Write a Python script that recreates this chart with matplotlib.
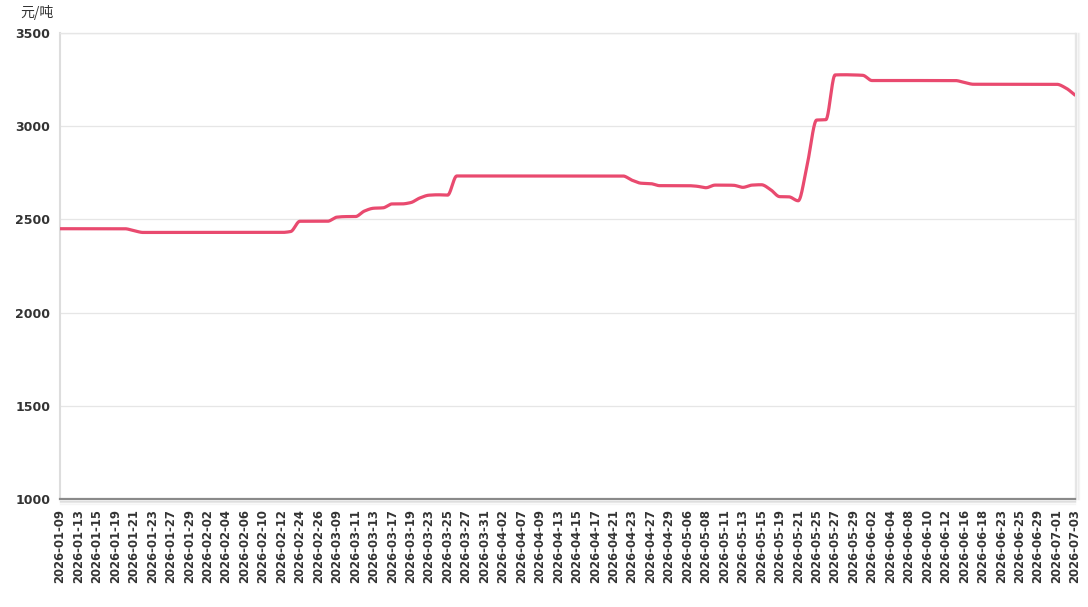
import numpy as np
import matplotlib
matplotlib.use("Agg")
import matplotlib.pyplot as plt

plt.rcParams['font.family'] = ['Noto Sans CJK SC', 'DejaVu Sans']

dates = [
    "2026-01-09", "2026-01-12", "2026-01-13", "2026-01-14", "2026-01-15", "2026-01-16",
    "2026-01-19", "2026-01-20", "2026-01-21", "2026-01-22", "2026-01-23", "2026-01-26",
    "2026-01-27", "2026-01-28", "2026-01-29", "2026-01-30", "2026-02-02", "2026-02-03",
    "2026-02-04", "2026-02-05", "2026-02-06", "2026-02-09", "2026-02-10", "2026-02-11",
    "2026-02-12", "2026-02-13", "2026-02-24", "2026-02-25", "2026-02-26", "2026-03-02",
    "2026-03-09", "2026-03-10", "2026-03-11", "2026-03-12", "2026-03-13", "2026-03-16",
    "2026-03-17", "2026-03-18", "2026-03-19", "2026-03-20", "2026-03-23", "2026-03-24",
    "2026-03-25", "2026-03-26", "2026-03-27", "2026-03-30", "2026-03-31", "2026-04-01",
    "2026-04-02", "2026-04-03", "2026-04-07", "2026-04-08", "2026-04-09", "2026-04-10",
    "2026-04-13", "2026-04-14", "2026-04-15", "2026-04-16", "2026-04-17", "2026-04-20",
    "2026-04-21", "2026-04-22", "2026-04-23", "2026-04-24", "2026-04-27", "2026-04-28",
    "2026-04-29", "2026-04-30", "2026-05-06", "2026-05-07", "2026-05-08", "2026-05-09",
    "2026-05-11", "2026-05-12", "2026-05-13", "2026-05-14", "2026-05-15", "2026-05-18",
    "2026-05-19", "2026-05-20", "2026-05-21", "2026-05-22", "2026-05-25", "2026-05-26",
    "2026-05-27", "2026-05-28", "2026-05-29", "2026-06-01", "2026-06-02", "2026-06-03",
    "2026-06-04", "2026-06-05", "2026-06-08", "2026-06-09", "2026-06-10", "2026-06-11",
    "2026-06-12", "2026-06-15", "2026-06-16", "2026-06-17", "2026-06-18", "2026-06-22",
    "2026-06-23", "2026-06-24", "2026-06-25", "2026-06-26", "2026-06-29", "2026-06-30",
    "2026-07-01", "2026-07-02", "2026-07-03",
]

prices = [
    2450, 2450, 2450, 2450, 2450, 2450, 2450, 2450, 2440, 2430,   # 0-9
    2430, 2430, 2430, 2430, 2430, 2430, 2430, 2430, 2430, 2430,   # 10-19
    2430, 2430, 2430, 2430, 2430, 2435, 2490, 2490, 2490, 2490,   # 20-29
    2512, 2515, 2515, 2545, 2560, 2562, 2583, 2583, 2590, 2615,   # 30-39
    2630, 2632, 2630, 2733, 2733, 2733, 2733, 2733, 2733, 2733,   # 40-49
    2733, 2733, 2733, 2733, 2733, 2733, 2733, 2733, 2733, 2733,   # 50-59
    2733, 2733, 2710, 2694, 2692, 2681, 2681, 2681, 2681, 2678,   # 60-69
    2670, 2684, 2684, 2683, 2672, 2684, 2686, 2660, 2622, 2621,   # 70-79
    2600, 2800, 3033, 3035, 3275, 3276, 3275, 3273, 3245, 3245,   # 80-89
    3245, 3245, 3245, 3245, 3245, 3245, 3245, 3245, 3235, 3225,   # 90-99
    3225, 3225, 3225, 3225, 3225, 3225, 3225, 3225, 3225, 3205,   # 100-109
    3167,                                                         # 110
]

unit_label = "元/吨"
y_ticks = [1000, 1500, 2000, 2500, 3000, 3500]


def pchip(x, y, xs):
    x = np.asarray(x, float)
    y = np.asarray(y, float)
    h = np.diff(x)
    d = np.diff(y) / h
    n = len(x)
    m = np.zeros(n)
    for k in range(1, n - 1):
        if d[k - 1] * d[k] <= 0:
            m[k] = 0.0
        else:
            w1 = 2 * h[k] + h[k - 1]
            w2 = h[k] + 2 * h[k - 1]
            m[k] = (w1 + w2) / (w1 / d[k - 1] + w2 / d[k])
    m[0] = d[0]
    m[-1] = d[-1]
    idx = np.clip(np.searchsorted(x, xs) - 1, 0, n - 2)
    t = (xs - x[idx]) / h[idx]
    h00 = 2 * t**3 - 3 * t**2 + 1
    h10 = t**3 - 2 * t**2 + t
    h01 = -2 * t**3 + 3 * t**2
    h11 = t**3 - t**2
    return h00 * y[idx] + h10 * h[idx] * m[idx] + h01 * y[idx + 1] + h11 * h[idx] * m[idx + 1]


fig = plt.figure(figsize=(10.88, 6.07), dpi=100)
ax = fig.add_axes([60 / 1088, 1 - 499 / 607, (1075 - 60) / 1088, (499 - 33) / 607])

xi = np.arange(len(dates))
xs = np.linspace(0, len(dates) - 1, 3000)
ax.plot(xs, pchip(xi, prices, xs), color="#e94a6f", lw=2.3, solid_capstyle="round", zorder=3)

ax.set_xlim(0, len(dates) - 1)
ax.set_ylim(1000, 3500)
ax.set_yticks(y_ticks)
ax.set_yticklabels([str(v) for v in y_ticks], fontsize=9, fontweight="bold", color="#333333",
                   family=["DejaVu Sans"])
ax.set_xticks(xi[::2])
ax.set_xticklabels(dates[::2], rotation=90, fontsize=8.4, fontweight="bold", color="#333333",
                   family=["DejaVu Sans"])
ax.tick_params(axis="both", length=0)
ax.tick_params(axis="x", pad=7)
ax.tick_params(axis="y", pad=7)

ax.grid(axis="y", color="#e6e6e6", lw=0.9)
ax.set_axisbelow(True)
for s in ["top", "right"]:
    ax.spines[s].set_color("#e6e6e6")
    ax.spines[s].set_linewidth(1.0)
ax.spines["left"].set_color("#dddddd")
ax.spines["left"].set_linewidth(1.5)
ax.spines["bottom"].set_color("#8a8a8a")
ax.spines["bottom"].set_linewidth(1.6)

# soft shadow under the bottom axis and beside the right edge
for k, a in enumerate([0.25, 0.15, 0.08]):
    ax.plot([0, 1], [-0.004 - k * 0.003] * 2, transform=ax.transAxes, color="#888888",
            alpha=a, lw=1.0, clip_on=False)
    ax.plot([1.001 + k * 0.0015] * 2, [0, 1], transform=ax.transAxes, color="#999999",
            alpha=a, lw=1.0, clip_on=False)

fig.text(20 / 1088, 1 - 13 / 607, unit_label, fontsize=10, color="#333333", va="center", ha="left")

fig.savefig("out.png", dpi=100)
